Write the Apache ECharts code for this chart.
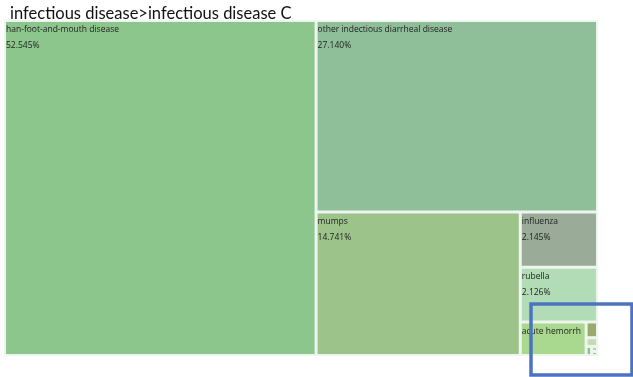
<!DOCTYPE html>
<html>
<head>
<meta charset="utf-8">
<script src="https://cdn.jsdelivr.net/npm/echarts@6/dist/echarts.min.js"></script>
<style>
  html, body { margin: 0; padding: 0; background: #fff; }
  #chart { width: 633px; height: 377px; }
</style>
</head>
<body>
<div id="chart"></div>
<script>
// Share of reported cases, infectious disease class C (percent)
const diseases = [
  'han-foot-and-mouth disease',
  'other indectious diarrheal disease',
  'mumps',
  'influenza',
  'rubella',
  'acute hemorrhagic conjunctivitis',
  'echinococcosis',
  'typhus',
  'leishmaniasis',
  'leprosy',
  'filariasis'
];
const shares = [52.545, 27.140, 14.741, 2.145, 2.126, 1.111, 0.090, 0.050, 0.025, 0.015, 0.012];
const cellColors = [
  '#8cc68c', '#8fbf98', '#9cc48a', '#9aab98', '#b1dcb6', '#a9d88f',
  '#9aaa6c', '#c4dcb0', '#8fbf98', '#a9d88f', '#9cc48a'
];

const chart = echarts.init(document.getElementById('chart'));

chart.setOption({
  animation: false,
  title: {
    text: 'infectious disease>infectious disease C',
    left: 5,
    top: 0,
    textStyle: {
      fontFamily: 'Lato',
      fontSize: 16.5,
      fontWeight: 'normal',
      color: '#111'
    }
  },
  graphic: [{
    type: 'rect',
    z: 100,
    shape: { x: 531, y: 304, width: 101, height: 71 },
    style: { fill: 'none', stroke: '#4a74c0', lineWidth: 3.5 }
  }],
  series: [{
    type: 'treemap',
    left: 4,
    top: 20,
    right: 35,
    bottom: 21,
    roam: false,
    nodeClick: false,
    squareRatio: 1,
    breadcrumb: { show: false },
    sort: 'desc',
    itemStyle: {
      borderColor: '#eef5ee',
      borderWidth: 1,
      gapWidth: 1
    },
    label: {
      show: true,
      position: 'insideTopLeft',
      distance: 0,
      padding: 0,
      fontFamily: 'Open Sans',
      fontSize: 8.5,
      lineHeight: 16,
      color: '#222',
      overflow: 'truncate',
      ellipsis: '',
      formatter: p => p.name + '\n' + p.value.toFixed(3) + '%'
    },
    data: diseases.map((name, i) => ({
      name: name,
      value: shares[i],
      itemStyle: { color: cellColors[i] }
    }))
  }]
});
</script>
</body>
</html>
